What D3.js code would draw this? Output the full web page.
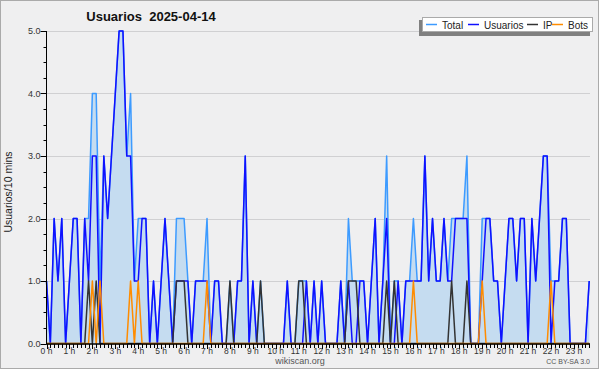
<!DOCTYPE html>
<html><head><meta charset="utf-8">
<script src="https://cdn.jsdelivr.net/npm/d3@7"></script>
<style>body{margin:0;background:#fff}svg{display:block}text{font-family:"Liberation Sans",Arial,sans-serif}</style>
</head><body><svg id="c" width="600" height="370"></svg>
<script>
const title = "Usuarios  2025-04-14";
const yLabel = "Usuarios/10 mins";
const seriesNames = ["Total","Usuarios","IP","Bots"];
const hourLabels = d3.range(24).map(h => h + " h");
const yTicks = [0,1,2,3,4,5];
// ten-minute slots from 00:00 to 23:40
const usuarios = [1,0,2,1,2,0,1,2,2,0, 2,1,3,3,0,3,2,3,4,5, 5,3,3,1,1,2,2,0,1,0, 1,2,1,0,1,1,1,1,0,1, 1,1,1,0,1,1,0,0,0,0, 1,1,3,0,1,0,0,0,0,0, 0,0,0,1,0,0,0,0,1,0, 1,0,1,0,0,0,0,1,0,1, 0,0,1,1,0,1,2,0,1,2, 0,0,1,0,1,1,1,1,1,3, 1,2,1,1,2,1,1,2,2,2, 2,0,0,0,1,2,2,1,1,0, 1,2,2,1,2,2,0,2,1,2, 3,3,0,1,1,2,2,0,0,0, 0,0,1];
const total    = [1,0,2,1,2,0,1,2,2,0, 2,2,4,4,1,3,2,3,4,5, 5,3,4,1,2,2,2,0,1,0, 1,2,1,0,2,2,2,1,0,1, 1,1,2,0,1,1,0,0,1,0, 1,1,3,0,1,0,1,0,0,0, 0,0,0,1,0,0,1,1,1,0, 1,0,1,0,0,0,0,1,0,2, 1,1,1,1,0,1,2,0,1,3, 0,1,1,0,1,1,2,1,1,3, 1,2,1,1,2,1,2,2,2,2, 3,0,0,0,2,2,2,1,1,0, 1,2,2,1,2,2,0,2,1,2, 3,3,1,1,1,2,2,0,0,0, 0,0,1];
const ip       = [0,0,0,0,0,0,0,0,0,0, 0,1,0,1,0,0,0,0,0,0, 0,0,0,0,0,0,0,0,0,0, 0,0,0,0,1,1,1,0,0,0, 0,0,0,0,0,0,0,0,1,0, 0,0,0,0,0,0,1,0,0,0, 0,0,0,0,0,0,1,1,0,0, 0,0,0,0,0,0,0,0,0,1, 1,1,0,0,0,0,0,0,0,1, 0,1,0,0,0,0,0,0,0,0, 0,0,0,0,0,0,1,0,0,0, 1,0,0,0,0,0,0,0,0,0, 0,0,0,0,0,0,0,0,0,0, 0,0,0,0,0,0,0,0,0,0, 0,0,0];
const bots     = [0,0,0,0,0,0,0,0,0,0, 0,0,1,0,1,0,0,0,0,0, 0,0,1,0,1,0,0,0,0,0, 0,0,0,0,0,0,0,0,0,0, 0,0,1,0,0,0,0,0,0,0, 0,0,0,0,0,0,0,0,0,0, 0,0,0,0,0,0,0,0,0,0, 0,0,0,0,0,0,0,0,0,0, 0,0,0,0,0,0,0,0,0,0, 0,0,0,0,0,0,1,0,0,0, 0,0,0,0,0,0,0,0,0,0, 0,0,0,0,1,0,0,0,0,0, 0,0,0,0,0,0,0,0,0,0, 0,0,1,0,0,0,0,0,0,0, 0,0,0];
const colors = {Total:"#3d9bff", Usuarios:"#1010ff", IP:"#333333", Bots:"#ff8c00"};

const svg = d3.select("#c");
svg.append("rect").attr("x",0.5).attr("y",0.5).attr("width",598).attr("height",368)
  .attr("fill","#efeff0").attr("stroke","#aaaaaa");

const N = usuarios.length;
const slot = 3.822;
const x = d3.scaleLinear().domain([0,1]).range([46.5,46.5+slot]);
const y = d3.scaleLinear().domain([0,5]).range([343.5,31]);

svg.append("g").selectAll("line").data(yTicks.filter(d=>d>0)).join("line")
  .attr("x1",47).attr("x2",590).attr("y1",d=>Math.round(y(d))+0.5).attr("y2",d=>Math.round(y(d))+0.5)
  .attr("stroke","#d0d0d2").attr("stroke-width",1);

const idx = d3.range(N);
svg.append("path").datum(idx)
  .attr("d", d3.area().x(i=>x(i)).y0(y(0)).y1(i=>y(total[i])))
  .attr("fill","#c5dcf0");
const line = arr => d3.line().x(i=>x(i)).y(i=>y(arr[i]));
[["Total",total],["Usuarios",usuarios],["IP",ip],["Bots",bots]].forEach(([n,arr])=>{
  svg.append("path").datum(idx).attr("d",line(arr)).attr("fill","none")
    .attr("stroke",colors[n]).attr("stroke-width",1.5).attr("stroke-linejoin","round");
});

// y axis
const ya = svg.append("g").attr("transform","translate(46.5,0)");
ya.append("line").attr("y1",31).attr("y2",344).attr("stroke","#000");
ya.selectAll(".mt").data(d3.range(0,5.01,0.25)).join("line")
  .attr("x1",d=>Number.isInteger(d)?-6:-3).attr("x2",0)
  .attr("y1",d=>Math.round(y(d))+0.5).attr("y2",d=>Math.round(y(d))+0.5).attr("stroke","#000");
ya.selectAll("text").data(yTicks).join("text")
  .attr("x",-6).attr("y",d=>y(d)+3).attr("text-anchor","end")
  .attr("font-size",9).attr("fill","#333").text(d=>d.toFixed(1));
svg.append("text").attr("transform","translate(12,192) rotate(-90)").attr("text-anchor","middle")
  .attr("font-size",10.5).attr("font-family","DejaVu Sans").attr("fill","#222").text(yLabel);

// x axis
const xa = svg.append("g").attr("transform","translate(0,344)");
xa.append("line").attr("x1",46).attr("x2",590).attr("stroke","#000").attr("stroke-width",1.5);
xa.selectAll("line.t").data(d3.range(0,143)).join("line").attr("class","t")
  .attr("x1",i=>Math.round(x(i))+0.5).attr("x2",i=>Math.round(x(i))+0.5)
  .attr("y1",0).attr("y2",i=>i%6===0?5:4).attr("stroke","#000");
xa.selectAll("text").data(hourLabels).join("text")
  .attr("x",(d,h)=>x(h*6)).attr("y",10).attr("text-anchor","middle")
  .attr("font-size",8.5).attr("fill","#333").text(d=>d);

// title
svg.append("text").attr("x",151).attr("y",21).attr("text-anchor","middle").style("white-space","pre")
  .attr("font-size",13).attr("font-weight","bold").attr("fill","#111").text(title);

// legend
const lg = svg.append("g");
lg.append("rect").attr("x",419).attr("y",20).attr("width",171).attr("height",16).attr("fill","#808080");
lg.append("rect").attr("x",422.5).attr("y",17.5).attr("width",170).attr("height",14).attr("fill","#fff").attr("stroke","#aaa");
const lx = [426,468,527,552];
seriesNames.forEach((n,k)=>{
  lg.append("line").attr("x1",lx[k]).attr("x2",lx[k]+11).attr("y1",24.5).attr("y2",24.5).attr("stroke",colors[n]).attr("stroke-width",1.5);
  lg.append("text").attr("x",lx[k]+16).attr("y",28.5).attr("font-size",10).attr("fill","#222").text(n);
});

svg.append("text").attr("x",300).attr("y",364).attr("text-anchor","middle").attr("font-size",9).attr("fill","#555").text("wikiscan.org");
svg.append("text").attr("x",590).attr("y",364).attr("text-anchor","end").attr("font-size",7).attr("fill","#555").text("CC BY-SA 3.0");
</script></body></html>
